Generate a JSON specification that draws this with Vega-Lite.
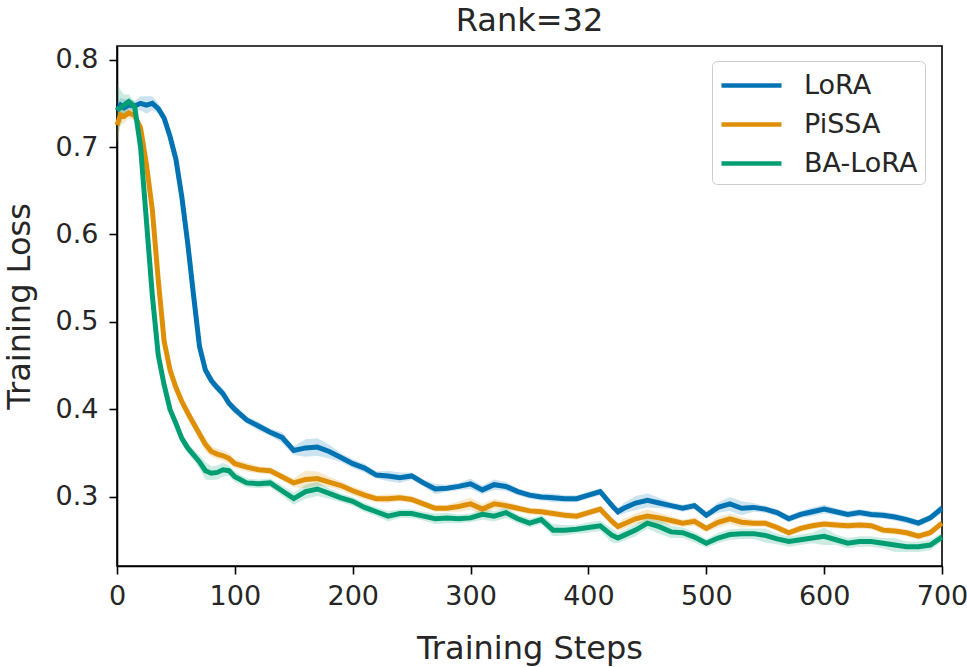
{
"$schema":"https://vega.github.io/schema/vega-lite/v6.json",
"width":825,"height":520,
"autosize":{"type":"none"},
"padding":{"left":117,"top":46,"right":25,"bottom":101},
"background":"white",
"title":{"text":"Rank=32","fontSize":32,"font":"DejaVu Sans","fontWeight":"normal","color":"#262626","offset":8},
"config":{
 "view":{"stroke":"black","strokeWidth":1.6},
 "axis":{"domainColor":"black","domainWidth":1.6,"tickColor":"black","tickWidth":1.6,"tickSize":8,"grid":false,
  "labelFont":"DejaVu Sans","labelFontSize":27,"labelColor":"#262626","titleFont":"DejaVu Sans","titleFontSize":32,"titleFontWeight":"normal","titleColor":"#262626","labelFlush":false,"labelOverlap":false}
},
"data":{"values":[
{"m":"LoRA","s":0,"v":0.742,"w":0.008},{"m":"LoRA","s":3,"v":0.748,"w":0.008},{"m":"LoRA","s":6,"v":0.745,"w":0.01},{"m":"LoRA","s":10,"v":0.748,"w":0.006},{"m":"LoRA","s":15,"v":0.747,"w":0.006},{"m":"LoRA","s":20,"v":0.75,"w":0.008},{"m":"LoRA","s":25,"v":0.748,"w":0.01},{"m":"LoRA","s":30,"v":0.75,"w":0.008},{"m":"LoRA","s":35,"v":0.744,"w":0.006},{"m":"LoRA","s":40,"v":0.733,"w":0.005},{"m":"LoRA","s":45,"v":0.712,"w":0.004},{"m":"LoRA","s":50,"v":0.686,"w":0.004},{"m":"LoRA","s":55,"v":0.643,"w":0.004},{"m":"LoRA","s":60,"v":0.59,"w":0.004},{"m":"LoRA","s":65,"v":0.53,"w":0.004},{"m":"LoRA","s":70,"v":0.472,"w":0.004},{"m":"LoRA","s":75,"v":0.445,"w":0.006},{"m":"LoRA","s":80,"v":0.433,"w":0.006},{"m":"LoRA","s":85,"v":0.425,"w":0.005},{"m":"LoRA","s":90,"v":0.418,"w":0.006},{"m":"LoRA","s":95,"v":0.407,"w":0.005},{"m":"LoRA","s":100,"v":0.4,"w":0.005},{"m":"LoRA","s":110,"v":0.388,"w":0.004},{"m":"LoRA","s":120,"v":0.381,"w":0.005},{"m":"LoRA","s":130,"v":0.374,"w":0.004},{"m":"LoRA","s":140,"v":0.368,"w":0.006},{"m":"LoRA","s":150,"v":0.353,"w":0.005},{"m":"LoRA","s":160,"v":0.356,"w":0.01},{"m":"LoRA","s":170,"v":0.357,"w":0.01},{"m":"LoRA","s":180,"v":0.352,"w":0.008},{"m":"LoRA","s":190,"v":0.345,"w":0.005},{"m":"LoRA","s":200,"v":0.338,"w":0.005},{"m":"LoRA","s":210,"v":0.333,"w":0.005},{"m":"LoRA","s":220,"v":0.325,"w":0.004},{"m":"LoRA","s":230,"v":0.324,"w":0.006},{"m":"LoRA","s":240,"v":0.322,"w":0.006},{"m":"LoRA","s":250,"v":0.324,"w":0.004},{"m":"LoRA","s":260,"v":0.316,"w":0.004},{"m":"LoRA","s":270,"v":0.309,"w":0.006},{"m":"LoRA","s":280,"v":0.31,"w":0.004},{"m":"LoRA","s":290,"v":0.312,"w":0.004},{"m":"LoRA","s":300,"v":0.315,"w":0.006},{"m":"LoRA","s":310,"v":0.308,"w":0.005},{"m":"LoRA","s":320,"v":0.314,"w":0.006},{"m":"LoRA","s":330,"v":0.312,"w":0.005},{"m":"LoRA","s":340,"v":0.306,"w":0.004},{"m":"LoRA","s":350,"v":0.302,"w":0.004},{"m":"LoRA","s":360,"v":0.3,"w":0.004},{"m":"LoRA","s":370,"v":0.299,"w":0.005},{"m":"LoRA","s":380,"v":0.298,"w":0.004},{"m":"LoRA","s":390,"v":0.298,"w":0.004},{"m":"LoRA","s":400,"v":0.302,"w":0.004},{"m":"LoRA","s":410,"v":0.306,"w":0.004},{"m":"LoRA","s":420,"v":0.29,"w":0.004},{"m":"LoRA","s":425,"v":0.283,"w":0.004},{"m":"LoRA","s":430,"v":0.287,"w":0.006},{"m":"LoRA","s":440,"v":0.293,"w":0.008},{"m":"LoRA","s":450,"v":0.296,"w":0.008},{"m":"LoRA","s":460,"v":0.293,"w":0.006},{"m":"LoRA","s":470,"v":0.29,"w":0.004},{"m":"LoRA","s":480,"v":0.287,"w":0.004},{"m":"LoRA","s":490,"v":0.29,"w":0.004},{"m":"LoRA","s":500,"v":0.279,"w":0.004},{"m":"LoRA","s":510,"v":0.288,"w":0.006},{"m":"LoRA","s":520,"v":0.292,"w":0.008},{"m":"LoRA","s":530,"v":0.287,"w":0.008},{"m":"LoRA","s":540,"v":0.288,"w":0.005},{"m":"LoRA","s":550,"v":0.286,"w":0.004},{"m":"LoRA","s":560,"v":0.282,"w":0.004},{"m":"LoRA","s":570,"v":0.275,"w":0.004},{"m":"LoRA","s":580,"v":0.28,"w":0.004},{"m":"LoRA","s":590,"v":0.283,"w":0.005},{"m":"LoRA","s":600,"v":0.286,"w":0.005},{"m":"LoRA","s":610,"v":0.283,"w":0.004},{"m":"LoRA","s":620,"v":0.28,"w":0.004},{"m":"LoRA","s":630,"v":0.282,"w":0.004},{"m":"LoRA","s":640,"v":0.28,"w":0.004},{"m":"LoRA","s":650,"v":0.279,"w":0.004},{"m":"LoRA","s":660,"v":0.277,"w":0.004},{"m":"LoRA","s":670,"v":0.274,"w":0.004},{"m":"LoRA","s":680,"v":0.27,"w":0.004},{"m":"LoRA","s":690,"v":0.276,"w":0.004},{"m":"LoRA","s":700,"v":0.287,"w":0.005},
{"m":"PiSSA","s":0,"v":0.725,"w":0.022},{"m":"PiSSA","s":3,"v":0.737,"w":0.012},{"m":"PiSSA","s":6,"v":0.735,"w":0.008},{"m":"PiSSA","s":10,"v":0.739,"w":0.006},{"m":"PiSSA","s":15,"v":0.736,"w":0.006},{"m":"PiSSA","s":20,"v":0.722,"w":0.005},{"m":"PiSSA","s":25,"v":0.68,"w":0.004},{"m":"PiSSA","s":30,"v":0.628,"w":0.004},{"m":"PiSSA","s":35,"v":0.548,"w":0.004},{"m":"PiSSA","s":40,"v":0.478,"w":0.004},{"m":"PiSSA","s":45,"v":0.445,"w":0.004},{"m":"PiSSA","s":50,"v":0.425,"w":0.004},{"m":"PiSSA","s":55,"v":0.409,"w":0.006},{"m":"PiSSA","s":60,"v":0.396,"w":0.008},{"m":"PiSSA","s":65,"v":0.384,"w":0.006},{"m":"PiSSA","s":70,"v":0.372,"w":0.006},{"m":"PiSSA","s":75,"v":0.36,"w":0.008},{"m":"PiSSA","s":80,"v":0.352,"w":0.006},{"m":"PiSSA","s":85,"v":0.349,"w":0.006},{"m":"PiSSA","s":90,"v":0.347,"w":0.006},{"m":"PiSSA","s":95,"v":0.344,"w":0.006},{"m":"PiSSA","s":100,"v":0.338,"w":0.005},{"m":"PiSSA","s":110,"v":0.334,"w":0.005},{"m":"PiSSA","s":120,"v":0.331,"w":0.004},{"m":"PiSSA","s":130,"v":0.33,"w":0.004},{"m":"PiSSA","s":140,"v":0.323,"w":0.004},{"m":"PiSSA","s":150,"v":0.316,"w":0.005},{"m":"PiSSA","s":160,"v":0.32,"w":0.01},{"m":"PiSSA","s":170,"v":0.321,"w":0.008},{"m":"PiSSA","s":180,"v":0.317,"w":0.006},{"m":"PiSSA","s":190,"v":0.313,"w":0.005},{"m":"PiSSA","s":200,"v":0.307,"w":0.005},{"m":"PiSSA","s":210,"v":0.302,"w":0.005},{"m":"PiSSA","s":220,"v":0.298,"w":0.004},{"m":"PiSSA","s":230,"v":0.298,"w":0.005},{"m":"PiSSA","s":240,"v":0.299,"w":0.004},{"m":"PiSSA","s":250,"v":0.297,"w":0.004},{"m":"PiSSA","s":260,"v":0.292,"w":0.004},{"m":"PiSSA","s":270,"v":0.287,"w":0.004},{"m":"PiSSA","s":280,"v":0.287,"w":0.004},{"m":"PiSSA","s":290,"v":0.289,"w":0.006},{"m":"PiSSA","s":300,"v":0.292,"w":0.007},{"m":"PiSSA","s":310,"v":0.286,"w":0.006},{"m":"PiSSA","s":320,"v":0.292,"w":0.006},{"m":"PiSSA","s":330,"v":0.29,"w":0.005},{"m":"PiSSA","s":340,"v":0.287,"w":0.004},{"m":"PiSSA","s":350,"v":0.284,"w":0.004},{"m":"PiSSA","s":360,"v":0.283,"w":0.004},{"m":"PiSSA","s":370,"v":0.281,"w":0.004},{"m":"PiSSA","s":380,"v":0.279,"w":0.004},{"m":"PiSSA","s":390,"v":0.278,"w":0.004},{"m":"PiSSA","s":400,"v":0.282,"w":0.004},{"m":"PiSSA","s":410,"v":0.286,"w":0.004},{"m":"PiSSA","s":420,"v":0.272,"w":0.004},{"m":"PiSSA","s":425,"v":0.266,"w":0.004},{"m":"PiSSA","s":430,"v":0.269,"w":0.006},{"m":"PiSSA","s":440,"v":0.275,"w":0.006},{"m":"PiSSA","s":450,"v":0.278,"w":0.008},{"m":"PiSSA","s":460,"v":0.276,"w":0.006},{"m":"PiSSA","s":470,"v":0.273,"w":0.005},{"m":"PiSSA","s":480,"v":0.27,"w":0.004},{"m":"PiSSA","s":490,"v":0.272,"w":0.005},{"m":"PiSSA","s":500,"v":0.264,"w":0.004},{"m":"PiSSA","s":510,"v":0.271,"w":0.006},{"m":"PiSSA","s":520,"v":0.275,"w":0.006},{"m":"PiSSA","s":530,"v":0.271,"w":0.006},{"m":"PiSSA","s":540,"v":0.27,"w":0.004},{"m":"PiSSA","s":550,"v":0.27,"w":0.004},{"m":"PiSSA","s":560,"v":0.265,"w":0.004},{"m":"PiSSA","s":570,"v":0.259,"w":0.004},{"m":"PiSSA","s":580,"v":0.264,"w":0.004},{"m":"PiSSA","s":590,"v":0.267,"w":0.004},{"m":"PiSSA","s":600,"v":0.269,"w":0.004},{"m":"PiSSA","s":610,"v":0.268,"w":0.004},{"m":"PiSSA","s":620,"v":0.267,"w":0.004},{"m":"PiSSA","s":630,"v":0.268,"w":0.004},{"m":"PiSSA","s":640,"v":0.267,"w":0.004},{"m":"PiSSA","s":650,"v":0.262,"w":0.004},{"m":"PiSSA","s":660,"v":0.261,"w":0.004},{"m":"PiSSA","s":670,"v":0.259,"w":0.004},{"m":"PiSSA","s":680,"v":0.255,"w":0.004},{"m":"PiSSA","s":690,"v":0.259,"w":0.004},{"m":"PiSSA","s":700,"v":0.27,"w":0.004},
{"m":"BA-LoRA","s":0,"v":0.742,"w":0.03},{"m":"BA-LoRA","s":3,"v":0.745,"w":0.02},{"m":"BA-LoRA","s":6,"v":0.748,"w":0.012},{"m":"BA-LoRA","s":10,"v":0.752,"w":0.008},{"m":"BA-LoRA","s":15,"v":0.746,"w":0.006},{"m":"BA-LoRA","s":20,"v":0.7,"w":0.005},{"m":"BA-LoRA","s":25,"v":0.615,"w":0.004},{"m":"BA-LoRA","s":30,"v":0.53,"w":0.004},{"m":"BA-LoRA","s":35,"v":0.462,"w":0.004},{"m":"BA-LoRA","s":40,"v":0.428,"w":0.004},{"m":"BA-LoRA","s":45,"v":0.4,"w":0.005},{"m":"BA-LoRA","s":50,"v":0.384,"w":0.005},{"m":"BA-LoRA","s":55,"v":0.367,"w":0.006},{"m":"BA-LoRA","s":60,"v":0.356,"w":0.006},{"m":"BA-LoRA","s":65,"v":0.348,"w":0.006},{"m":"BA-LoRA","s":70,"v":0.34,"w":0.008},{"m":"BA-LoRA","s":75,"v":0.33,"w":0.01},{"m":"BA-LoRA","s":80,"v":0.327,"w":0.008},{"m":"BA-LoRA","s":85,"v":0.328,"w":0.008},{"m":"BA-LoRA","s":90,"v":0.331,"w":0.008},{"m":"BA-LoRA","s":95,"v":0.33,"w":0.006},{"m":"BA-LoRA","s":100,"v":0.323,"w":0.006},{"m":"BA-LoRA","s":110,"v":0.316,"w":0.005},{"m":"BA-LoRA","s":120,"v":0.315,"w":0.005},{"m":"BA-LoRA","s":130,"v":0.316,"w":0.005},{"m":"BA-LoRA","s":140,"v":0.307,"w":0.006},{"m":"BA-LoRA","s":150,"v":0.298,"w":0.007},{"m":"BA-LoRA","s":160,"v":0.306,"w":0.008},{"m":"BA-LoRA","s":170,"v":0.309,"w":0.008},{"m":"BA-LoRA","s":180,"v":0.304,"w":0.006},{"m":"BA-LoRA","s":190,"v":0.299,"w":0.005},{"m":"BA-LoRA","s":200,"v":0.295,"w":0.005},{"m":"BA-LoRA","s":210,"v":0.288,"w":0.005},{"m":"BA-LoRA","s":220,"v":0.283,"w":0.005},{"m":"BA-LoRA","s":230,"v":0.278,"w":0.006},{"m":"BA-LoRA","s":240,"v":0.281,"w":0.005},{"m":"BA-LoRA","s":250,"v":0.281,"w":0.005},{"m":"BA-LoRA","s":260,"v":0.278,"w":0.005},{"m":"BA-LoRA","s":270,"v":0.275,"w":0.006},{"m":"BA-LoRA","s":280,"v":0.276,"w":0.006},{"m":"BA-LoRA","s":290,"v":0.275,"w":0.005},{"m":"BA-LoRA","s":300,"v":0.276,"w":0.005},{"m":"BA-LoRA","s":310,"v":0.28,"w":0.006},{"m":"BA-LoRA","s":320,"v":0.278,"w":0.006},{"m":"BA-LoRA","s":330,"v":0.282,"w":0.006},{"m":"BA-LoRA","s":340,"v":0.275,"w":0.005},{"m":"BA-LoRA","s":350,"v":0.27,"w":0.005},{"m":"BA-LoRA","s":360,"v":0.274,"w":0.005},{"m":"BA-LoRA","s":370,"v":0.262,"w":0.007},{"m":"BA-LoRA","s":380,"v":0.262,"w":0.006},{"m":"BA-LoRA","s":390,"v":0.263,"w":0.005},{"m":"BA-LoRA","s":400,"v":0.265,"w":0.006},{"m":"BA-LoRA","s":410,"v":0.267,"w":0.006},{"m":"BA-LoRA","s":420,"v":0.256,"w":0.008},{"m":"BA-LoRA","s":425,"v":0.253,"w":0.006},{"m":"BA-LoRA","s":430,"v":0.256,"w":0.006},{"m":"BA-LoRA","s":440,"v":0.262,"w":0.007},{"m":"BA-LoRA","s":450,"v":0.27,"w":0.006},{"m":"BA-LoRA","s":460,"v":0.266,"w":0.008},{"m":"BA-LoRA","s":470,"v":0.26,"w":0.007},{"m":"BA-LoRA","s":480,"v":0.259,"w":0.006},{"m":"BA-LoRA","s":490,"v":0.254,"w":0.006},{"m":"BA-LoRA","s":500,"v":0.247,"w":0.005},{"m":"BA-LoRA","s":510,"v":0.253,"w":0.006},{"m":"BA-LoRA","s":520,"v":0.257,"w":0.006},{"m":"BA-LoRA","s":530,"v":0.258,"w":0.006},{"m":"BA-LoRA","s":540,"v":0.258,"w":0.006},{"m":"BA-LoRA","s":550,"v":0.256,"w":0.008},{"m":"BA-LoRA","s":560,"v":0.252,"w":0.006},{"m":"BA-LoRA","s":570,"v":0.249,"w":0.006},{"m":"BA-LoRA","s":580,"v":0.251,"w":0.006},{"m":"BA-LoRA","s":590,"v":0.253,"w":0.006},{"m":"BA-LoRA","s":600,"v":0.255,"w":0.01},{"m":"BA-LoRA","s":610,"v":0.251,"w":0.006},{"m":"BA-LoRA","s":620,"v":0.247,"w":0.006},{"m":"BA-LoRA","s":630,"v":0.249,"w":0.006},{"m":"BA-LoRA","s":640,"v":0.249,"w":0.006},{"m":"BA-LoRA","s":650,"v":0.247,"w":0.006},{"m":"BA-LoRA","s":660,"v":0.245,"w":0.008},{"m":"BA-LoRA","s":670,"v":0.243,"w":0.006},{"m":"BA-LoRA","s":680,"v":0.243,"w":0.006},{"m":"BA-LoRA","s":690,"v":0.245,"w":0.006},{"m":"BA-LoRA","s":700,"v":0.254,"w":0.005}
]},
"encoding":{
 "x":{"field":"s","type":"quantitative","scale":{"domain":[0,700],"nice":false,"zero":false},
  "axis":{"title":"Training Steps","values":[0,100,200,300,400,500,600,700],"labelPadding":9,"titlePadding":24}},
 "color":{"field":"m","type":"nominal","scale":{"domain":["LoRA","PiSSA","BA-LoRA"],"range":["#0173b2","#de8f05","#029e73"]},
   "legend":{"title":null,"orient":"none","legendX":595,"legendY":15,"symbolType":"M-1,0H3","symbolSize":900,"symbolStrokeWidth":4.5,"symbolOpacity":1,"symbolFillColor":"transparent","labelFont":"DejaVu Sans","labelFontSize":27,"labelColor":"#262626","labelOffset":50,"rowPadding":8,"padding":7,"strokeColor":"#cccccc","cornerRadius":5,"fillColor":"white"}}
},
"layer":[
 {"mark":{"type":"errorband","band":{"opacity":0.2}},
  "encoding":{
   "y":{"field":"v","type":"quantitative","scale":{"domain":[0.221,0.8155],"nice":false,"zero":false},
     "axis":{"title":"Training Loss","values":[0.3,0.4,0.5,0.6,0.7,0.8],"format":".1f","labelPadding":11,"titlePadding":19}},
   "yError":{"field":"w"}
  }},
 {"mark":{"type":"line","strokeWidth":5},
  "encoding":{
   "y":{"field":"v","type":"quantitative"}
  }}
]
}
